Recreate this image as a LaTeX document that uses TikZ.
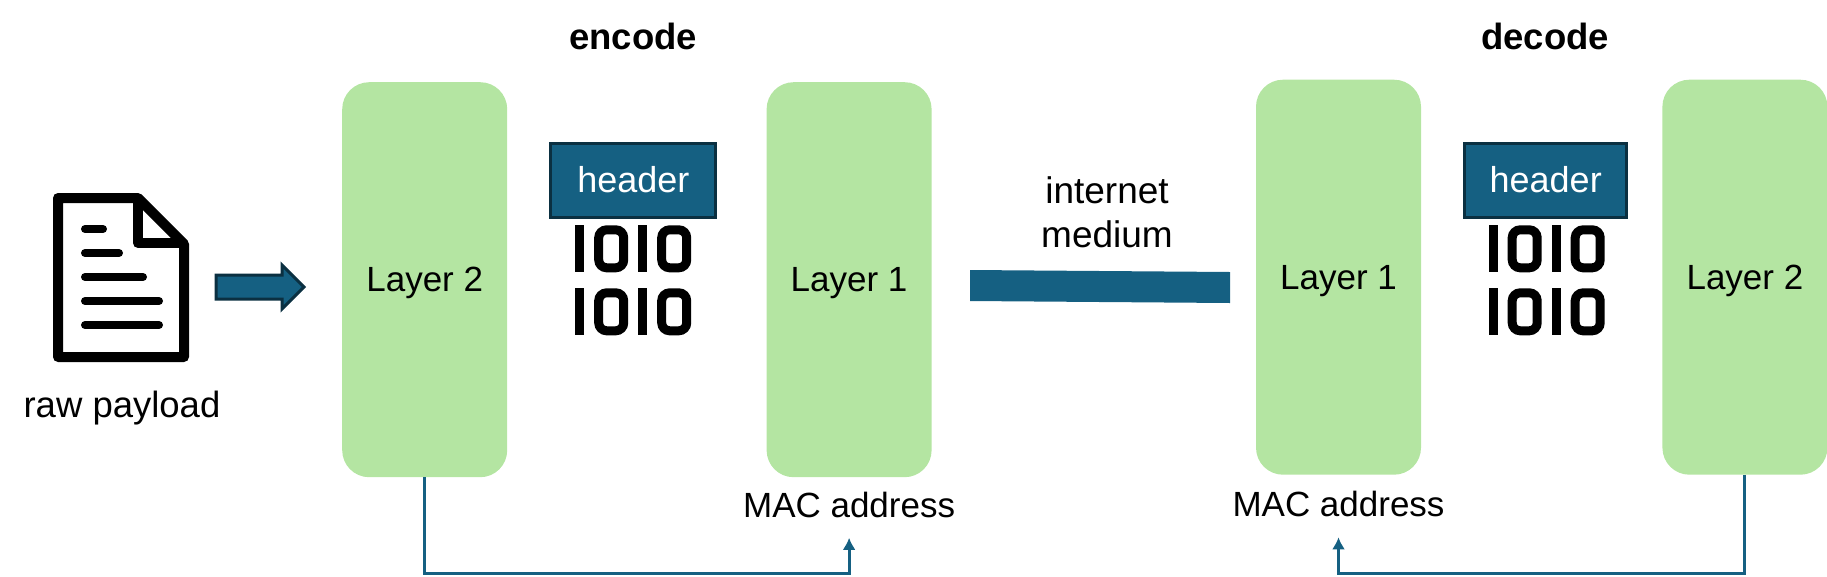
\documentclass[tikz,border=0pt]{standalone}
\usepackage{fontspec}
\setmainfont{Liberation Sans}
\usetikzlibrary{positioning,arrows.meta,shapes.arrows}
\definecolor{layergreen}{HTML}{B4E5A2}
\definecolor{netblue}{HTML}{156082}
\definecolor{edgeblue}{HTML}{0B3041}

\begin{document}
\begin{tikzpicture}[x=1pt,y=-1pt,
label/.style={inner sep=0pt,align=center,font=\fontsize{35}{44}\selectfont},
title/.style={label,font=\fontsize{36.5}{44}\selectfont\bfseries},
layer/.style={label,text depth=0pt,fill=layergreen,rounded corners=27pt,minimum width=165pt,minimum height=395pt},
header/.style={label,font=\fontsize{36}{44}\selectfont,text=white,fill=netblue,draw=edgeblue,line width=3pt,minimum height=74pt},
mac/.style={label,minimum height=66pt},
link/.style={draw=netblue,line width=3pt,-{Latex[length=12pt,width=13pt]}},
bitrow/.pic={\fill (0,0) rectangle (9,47);\draw[line width=9pt,rounded corners=8pt] (23.5,4.5) rectangle (48.5,42.5);
\fill (63,0) rectangle (72,47);\draw[line width=9pt,rounded corners=8pt] (86.5,4.5) rectangle (111.5,42.5);}]
\useasboundingbox (0,0) rectangle (1827,576);
\node[layer,anchor=north west](layerA) at (342,82){Layer 2};
\node[layer,right=259pt of layerA](layerB){Layer 1};
\node[layer,right=324pt of layerB,yshift=2.5pt](layerC){Layer 1};
\node[layer,right=241pt of layerC](layerD){Layer 2};
\node[header,minimum width=165pt,below right=59.5pt and 42pt of layerA.north east](headerA){header};
\node[header,minimum width=162pt,below right=62pt and 42pt of layerC.north east](headerB){header};
\pic at ([shift={(25.8,6.8)}]headerA.south west){bitrow};
\pic at ([shift={(25.8,69.8)}]headerA.south west){bitrow};
\pic at ([shift={(25.5,6.8)}]headerB.south west){bitrow};
\pic at ([shift={(25.5,69.8)}]headerB.south west){bitrow};
\node[title](encode) at (633,36){encode};
\node[title](decode) at (1545,36){decode};
\node[label,font=\fontsize{37}{44}\selectfont](medium) at (1107,212){internet\\medium};
\node[label,font=\fontsize{36.5}{44}\selectfont](payload) at (122,408.5){raw payload};
\node[mac,below=-6pt of layerB](macA){MAC address};
\node[mac,below=-4pt of layerC](macB){MAC address};
% document icon
\draw[line width=10pt,line join=round] (58,198)--(138,198)--(184,244)--(184,357)--(58,357)--cycle;
\draw[line width=10pt,line join=round] (138,198)--(138,243)--(184,243);
\foreach \y/\e in {229/103,253/119,277/143,301/159,325/159}
  \draw[line width=8pt,line cap=round] (85,\y)--(\e,\y);
\node[single arrow,fill=netblue,draw=edgeblue,line width=3pt,inner sep=0pt,inner ysep=10.5pt,minimum height=88pt,single arrow head extend=10pt,single arrow head indent=0pt](feed) at (254,287){};
% medium bar
\fill[netblue] (970,270)--(1230,272)--(1230,303)--(970,301)--cycle;
\coordinate (busA) at (425,573);
\coordinate (busB) at (1745,573);
\draw[link] (layerA.south) |- (busA -| macA.south) -- (macA.south);
\draw[link] (layerD.south) |- (busB -| macB.south) -- (macB.south);
\end{tikzpicture}
\end{document}
